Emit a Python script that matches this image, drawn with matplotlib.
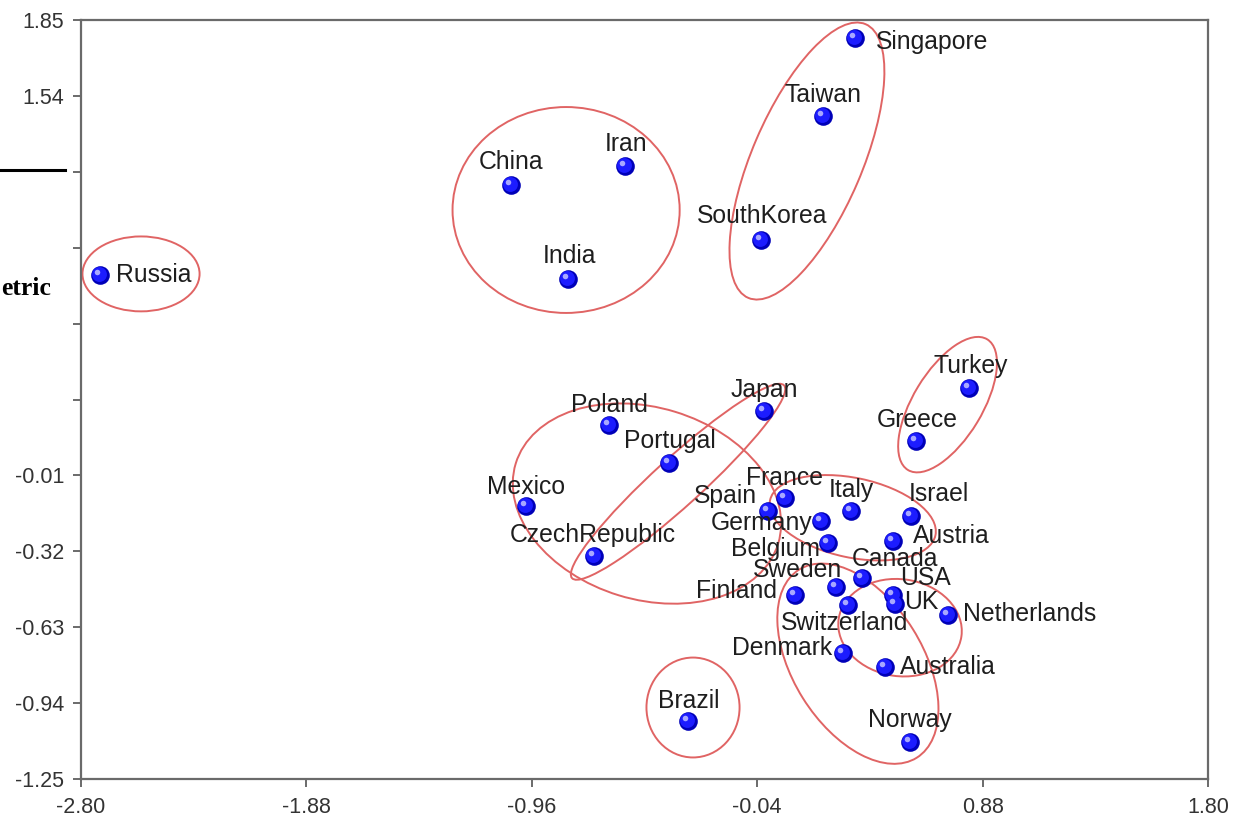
import matplotlib
matplotlib.use("Agg")
import matplotlib.pyplot as plt
from matplotlib.patches import Ellipse
from matplotlib.transforms import offset_copy

# ---------------- data ----------------
countries = ["Russia", "China", "Iran", "India", "Singapore", "Taiwan", "SouthKorea",
             "Turkey", "Greece", "Poland", "Japan", "Portugal", "Mexico", "CzechRepublic",
             "France", "Spain", "Italy", "Israel", "Germany", "Austria", "Belgium",
             "Canada", "Sweden", "USA", "UK", "Finland", "Switzerland", "Netherlands",
             "Denmark", "Australia", "Norway", "Brazil"]
x_vals = [-2.722, -1.045, -0.580, -0.812, 0.359, 0.229, -0.024,
          0.824, 0.608, -0.645, -0.012, -0.400, -0.984, -0.706,
          0.073, 0.004, 0.343, 0.588, 0.220, 0.514, 0.249,
          0.388, 0.282, 0.514, 0.522, 0.114, 0.331, 0.739,
          0.310, 0.482, 0.584, -0.322]
y_vals = [0.809, 1.177, 1.254, 0.793, 1.777, 1.458, 0.952,
          0.348, 0.132, 0.197, 0.254, 0.042, -0.134, -0.338,
          -0.101, -0.154, -0.154, -0.174, -0.195, -0.277, -0.285,
          -0.428, -0.464, -0.497, -0.534, -0.497, -0.538, -0.579,
          -0.734, -0.791, -1.097, -1.015]

x_ticks = [-2.80, -1.88, -0.96, -0.04, 0.88, 1.80]
x_tick_labels = ["-2.80", "-1.88", "-0.96", "-0.04", "0.88", "1.80"]
y_ticks = [1.85, 1.54, 1.23, 0.92, 0.61, 0.30, -0.01, -0.32, -0.63, -0.94, -1.25]
y_tick_labels = ["1.85", "1.54", "", "", "", "", "-0.01", "-0.32", "-0.63", "-0.94", "-1.25"]

# cluster ellipses: centre x, centre y, width, height, angle
ell_cx = [-2.555, -0.820, 0.163, 0.737, -0.490, -0.363, 0.350, 0.543, 0.371, -0.302]
ell_cy = [0.813, 1.074, 1.274, 0.279, -0.125, -0.036, -0.183, -0.632, -0.779, -0.958]
ell_w = [0.478, 0.927, 1.216, 0.624, 1.120, 1.170, 0.690, 0.506, 0.906, 0.380]
ell_h = [0.306, 0.841, 0.449, 0.282, 0.784, 0.195, 0.325, 0.396, 0.530, 0.408]
ell_ang = [0, 0, 66.8, 58.8, -17, 42.3, -12, -8, -58, 0]

# label placement (offset pixels, alignment)
label_style = {
    "Russia": (16, 0, "left"), "China": (0, 23, "center"), "Iran": (1, 22, "center"),
    "India": (1, 23, "center"), "Singapore": (21, -4, "left"), "Taiwan": (0, 21, "center"),
    "SouthKorea": (1, 24, "center"), "Turkey": (2, 22, "center"), "Greece": (1, 21, "center"),
    "Poland": (0, 20, "center"), "Japan": (0, 21, "center"), "Portugal": (1, 22, "center"),
    "Mexico": (0, 19, "center"), "CzechRepublic": (-1, 21, "center"), "France": (0, 20, "center"),
    "Spain": (-11, 15, "right"), "Italy": (0, 21, "center"), "Israel": (-2, 22, "left"),
    "Germany": (-8, -2, "right"), "Austria": (20, 5, "left"), "Belgium": (-8, -6, "right"),
    "Canada": (-10, 19, "left"), "Sweden": (6, 17, "right"), "USA": (7, 17, "left"),
    "UK": (9, 2, "left"), "Finland": (-18, 4, "right"), "Switzerland": (-3, -18, "center"),
    "Netherlands": (15, 1, "left"), "Denmark": (-11, 5, "right"), "Australia": (15, 0, "left"),
    "Norway": (0, 22, "center"), "Brazil": (1, 20, "center"),
}

# ---------------- figure ----------------
DPI = 100
fig = plt.figure(figsize=(12.33, 8.23), dpi=DPI)
ax = fig.add_axes([81 / 1233, 1 - 779 / 823, (1208 - 81) / 1233, (779 - 20) / 823])
ax.set_xlim(-2.80, 1.80)
ax.set_ylim(-1.25, 1.85)

font = "Liberation Sans"
spine_col = "#6a6a6a"
for s in ax.spines.values():
    s.set_color(spine_col)
    s.set_linewidth(1.6)

ax.set_xticks(x_ticks)
ax.set_xticklabels(x_tick_labels, fontfamily=font, fontsize=15.5, color="#333333")
ax.set_yticks(y_ticks)
ax.set_yticklabels(y_tick_labels, fontfamily=font, fontsize=15.5, color="#333333")
ax.tick_params(axis="both", direction="out", length=6, width=1.4, color=spine_col,
               top=False, right=False)
ax.tick_params(axis="y", pad=6)
ax.tick_params(axis="x", pad=7)

# ellipses
for cx, cy, w, h, a in zip(ell_cx, ell_cy, ell_w, ell_h, ell_ang):
    ax.add_patch(Ellipse((cx, cy), w, h, angle=a, fill=False,
                         edgecolor="#e06464", linewidth=1.4, zorder=2))

# sphere-like markers
ax.scatter(x_vals, y_vals, s=180, color="#0000b8", zorder=3, linewidths=0)
mid_tr = offset_copy(ax.transData, fig=fig, x=-1, y=1, units="dots")
ax.scatter(x_vals, y_vals, s=115, color="#1c1cff", zorder=4, linewidths=0, transform=mid_tr)
hi_tr = offset_copy(ax.transData, fig=fig, x=-3, y=3, units="dots")
ax.scatter(x_vals, y_vals, s=16, color="#a8a8ff", zorder=5, linewidths=0, transform=hi_tr)

# labels
for name, xv, yv in zip(countries, x_vals, y_vals):
    dx, dy, ha = label_style[name]
    ax.annotate(name, (xv, yv), xytext=(dx, dy), textcoords="offset pixels",
                ha=ha, va="center", fontsize=17.8, fontfamily=font, color="#1e1e1e", zorder=6)

# fragments of the surrounding page
fig.add_artist(plt.Line2D([0, 65 / 1233], [1 - 170 / 823, 1 - 170 / 823],
                          color="black", linewidth=2.2))
fig.text(1 / 1233, 1 - 295 / 823, "etric", fontfamily="Liberation Serif",
         fontweight="bold", fontsize=18.5, ha="left", va="baseline", color="black")

fig.savefig("out.png", dpi=DPI)
